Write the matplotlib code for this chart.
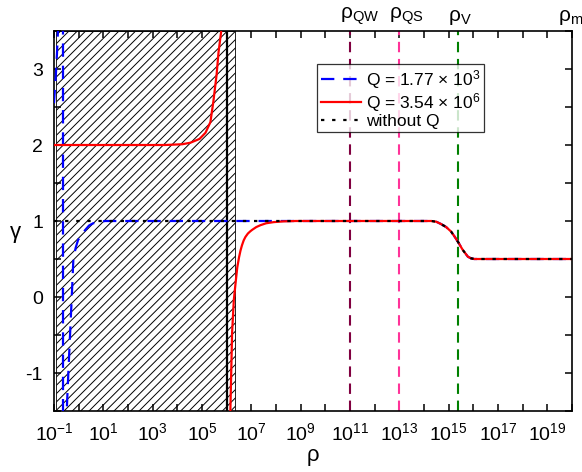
import numpy as np
import matplotlib
matplotlib.use("Agg")
import matplotlib.pyplot as plt
from matplotlib.ticker import LogLocator, FuncFormatter, MultipleLocator

plt.rcParams['font.family'] = ['Liberation Sans', 'DejaVu Sans']
plt.rcParams['mathtext.fontset'] = 'custom'
plt.rcParams['mathtext.rm'] = 'Liberation Sans'
plt.rcParams['mathtext.it'] = 'Liberation Sans:italic'
plt.rcParams['mathtext.default'] = 'regular'
plt.rcParams['axes.unicode_minus'] = False
plt.rcParams['hatch.linewidth'] = 0.7

# curves, x given as log10(rho)
# shared high-density drop from 1 to 1/2
tail_logrho = [14.3, 14.5, 14.69, 14.9, 15.1, 15.25, 15.37, 15.57, 15.78, 15.9, 16.03, 20.0]
tail_gamma = [1.0, 0.99, 0.96, 0.92, 0.86, 0.79, 0.73, 0.62, 0.53, 0.51, 0.5, 0.5]

# Q = 1.77e3 (pole near rho ~ 0.23)
blue_logrho = [-1.0, -0.96, -0.92, -0.88, -0.84, -0.78, -0.72, -0.64,
               -0.63, -0.55, -0.5, -0.484, -0.419, -0.35, -0.28, -0.215,
               -0.12, -0.024, 0.12, 0.26, 0.42, 0.585, 1.07]
blue_gamma = [2.55, 2.75, 2.95, 3.2, 3.5, 4.5, 8.0, 50.0,
              -50.0, -6.0, -2.2, -1.5, -1.0, -0.5, 0.0, 0.5,
              0.65, 0.75, 0.82, 0.88, 0.94, 0.97, 1.0]

# Q = 3.54e6 (pole near rho ~ 1e6), two branches
red_left_logrho = [-1.0, 3.5, 4.2, 4.53, 4.9, 5.14, 5.34, 5.46, 5.59, 5.67, 5.78, 5.85]
red_left_gamma = [2.0, 2.0, 2.01, 2.03, 2.08, 2.16, 2.30, 2.57, 2.92, 3.22, 3.5, 4.5]
red_right_logrho = [6.1, 6.15, 6.22, 6.29, 6.36, 6.43, 6.5, 6.56, 6.62, 6.69, 6.76, 6.86,
                    6.96, 7.04, 7.2, 7.37, 7.6, 7.9, 8.3, 8.8]
red_right_gamma = [-5.0, -1.5, -0.47, -0.04, 0.18, 0.39, 0.52, 0.61, 0.68, 0.745, 0.79, 0.835,
                   0.865, 0.885, 0.92, 0.945, 0.97, 0.985, 0.995, 1.0]

# without Q
black_logrho = [-1.0]
black_gamma = [1.0]

# characteristic densities
ref_names = [r'$\rho_{QW}$', r'$\rho_{QS}$', r'$\rho_{V}$', r'$\rho_{m}$']
ref_logrho = [11.0, 13.0, 15.37, 20.0]
ref_colors = ['#800040', '#ff3399', '#008000', None]

# hatched (excluded) region and the solid line inside it
hatch_lo, hatch_hi = 0.12, 2.1e6
wall_rho = 1e6

blue_x = 10 ** np.array(blue_logrho + tail_logrho)
blue_y = np.array(blue_gamma + tail_gamma)
red_x = 10 ** np.array(red_left_logrho + [np.nan] + red_right_logrho + tail_logrho)
red_y = np.array(red_left_gamma + [np.nan] + red_right_gamma + tail_gamma)
black_x = 10 ** np.array(black_logrho + tail_logrho)
black_y = np.array(black_gamma + tail_gamma)

fig = plt.figure(figsize=(5.82, 4.72), dpi=100)
ax = fig.add_axes([54 / 582, 1 - 411 / 472, 518 / 582, 380 / 472])
ax.set_xscale('log')

ax.axvspan(hatch_lo, hatch_hi, facecolor='none', edgecolor='black', hatch='////', lw=0.6, zorder=1)
ax.axvline(wall_rho, color='black', lw=1.6, zorder=2)

for name, lr, c in zip(ref_names, ref_logrho, ref_colors):
    if c is not None:
        ax.axvline(10 ** lr, color=c, lw=1.5, dashes=(5, 3.2), zorder=2)
    off = -14 if c is None else -10
    ax.annotate(name, xy=(10 ** lr, 1.0), xycoords=('data', 'axes fraction'),
                xytext=(off, 4), textcoords='offset pixels', ha='left', va='bottom',
                fontsize=15, annotation_clip=False)

ax.plot(blue_x, blue_y, color='blue', lw=1.6, dashes=(6, 4), label=r'Q = 1.77 $\times$ 10$^3$', zorder=3)
ax.plot(red_x, red_y, color='red', lw=1.6, label=r'Q = 3.54 $\times$ 10$^6$', zorder=4)
ax.plot(black_x, black_y, color='black', lw=1.6, dashes=(1.5, 3.5), label='without Q', zorder=5)

ax.set_xlim(0.1, 1e20)
ax.set_ylim(-1.5, 3.5)

ax.xaxis.set_major_locator(LogLocator(base=10, numticks=40))
ax.xaxis.set_minor_locator(LogLocator(base=10, subs=[], numticks=40))
ax.xaxis.set_major_formatter(FuncFormatter(
    lambda v, p: r'$10^{%d}$' % round(np.log10(v)) if round(np.log10(v)) % 2 else ''))
ax.yaxis.set_major_locator(MultipleLocator(1))
ax.yaxis.set_minor_locator(MultipleLocator(0.5))

ax.tick_params(which='both', direction='in', top=True, right=True, length=5, width=1.1,
               labelsize=14)
ax.tick_params(axis='x', pad=8)
ax.tick_params(axis='y', pad=8)
for s in ax.spines.values():
    s.set_linewidth(1.2)

ax.set_xlabel('ρ', fontsize=16, labelpad=1)
ax.set_ylabel('γ', fontsize=16, rotation=0, va='center')
ax.yaxis.set_label_coords(-0.075, 0.47)

leg = ax.legend(loc='upper left', bbox_to_anchor=(0.508, 0.912), fontsize=12.5,
                frameon=True, fancybox=False, handlelength=2.3, handletextpad=0.3,
                labelspacing=0.0, borderpad=0.2, borderaxespad=0)
leg.get_frame().set_edgecolor('black')
leg.get_frame().set_linewidth(0.9)

fig.savefig('out.png', dpi=100)
